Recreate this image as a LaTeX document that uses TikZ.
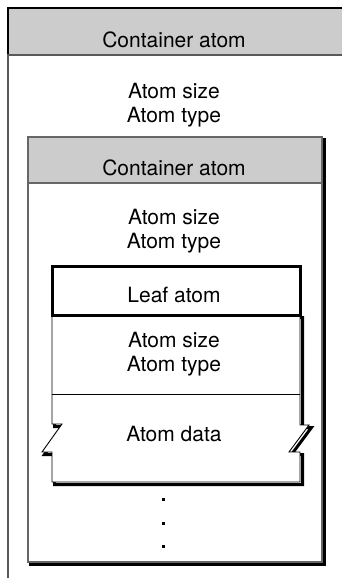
\documentclass[tikz,border=0pt]{standalone}
\usepackage{fontspec}
\setmainfont{TeX Gyre Heros}
\begin{document}
\begin{tikzpicture}[x=1pt,y=-1pt,
        atomtext/.style={anchor=north,inner sep=0pt,align=center,font=\fontsize{21}{24}\selectfont},
        boxline/.style={draw=black!60,line width=1.2pt},
        shadowline/.style={draw=black,line width=3pt,shift={(2.5,2.5)}}]
        \useasboundingbox (0,0) rectangle (342,578);
        \fill[black!20] (8,8) rectangle (343,55);
        \draw[line width=1.2pt] (343,8) -- (8,8) -- (8,55);
        \draw[black!65,line width=1.5pt] (343,55) -- (8,55) -- (8,579);
        \node[atomtext] (hdrouter) at (174,32) {Container atom};
        \node[atomtext] (fieldsouter) at (174,83) {Atom size\\Atom type};
        \draw[shadowline] (28,137) rectangle (322,562);
        \draw[boxline,fill=white] (28,137) rectangle (322,562);
        \draw[boxline,fill=black!20] (28,137) rectangle (322,183);
        \node[atomtext] (hdrinner) at (174,160) {Container atom};
        \node[atomtext] (fieldsinner) at (174,209) {Atom size\\Atom type};
        \draw[shadowline] (52,315) -- (52,424) -- (62,424) -- (42,452) -- (52,452)
            -- (52,482) -- (300,482) -- (300,452) -- (289,452) -- (309,425) -- (300,425) -- (300,315) -- cycle;
        \draw[line width=0.9pt,fill=white] (52,315) -- (52,424) -- (62,424) -- (42,452) -- (52,452)
            -- (52,482) -- (300,482) -- (300,452) -- (289,452) -- (309,425) -- (300,425) -- (300,315) -- cycle;
        \draw[line width=0.8pt] (52,394) -- (300,394);
        \draw[line width=3pt,fill=white] (52,266) rectangle (300,315);
        \node[atomtext] (leafhdr) at (174,287) {Leaf atom};
        \node[atomtext] (fieldsleaf) at (174,332) {Atom size\\Atom type};
        \node[atomtext] (leafdata) at (174,426) {Atom data};
        \foreach \y in {499,523,546}
            \fill (161.8,\y-1.5) rectangle ++(3,3);
\end{tikzpicture}
\end{document}
